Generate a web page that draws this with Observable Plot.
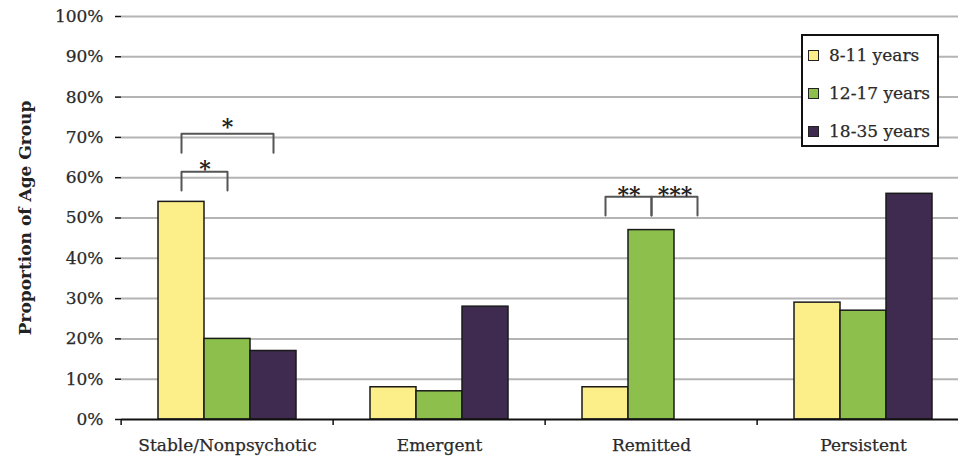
<!DOCTYPE html>
<html>
<head>
<meta charset="utf-8">
<script src="https://cdn.jsdelivr.net/npm/d3@7"></script>
<script src="https://cdn.jsdelivr.net/npm/@observablehq/plot@0.6"></script>
<style>
  html, body { margin: 0; padding: 0; background: #fff; }
  #wrap { position: relative; width: 958px; height: 458px; overflow: hidden; background: #fff; }
  #legend { position: absolute; left: 801px; top: 34px; width: 134px; height: 109px;
            border: 2px solid #111; background: #fff; font-family: "DejaVu Serif"; font-size: 17px; color: #2a2a2a;
            -webkit-text-stroke: 0.25px #2a2a2a; }
  .item { position: absolute; left: 5px; height: 20px; line-height: 20px; white-space: nowrap; }
  .sw { position: absolute; left: 0; top: 5px; width: 9px; height: 9px; border: 1px solid #222; }
  .lab { position: absolute; left: 21px; top: 0; }
  #chart svg g[aria-label="y-axis tick label"] text,
  #chart svg g[aria-label="fx-axis tick label"] text { stroke: #2a2a2a; stroke-width: 0.25px; }
  #chart svg g[aria-label="y-axis label"] text, #chart svg g[aria-label="y-axis label"] { font-weight: bold; font-size: 17px; fill: #222; }
</style>
</head>
<body>
<div id="wrap"><div id="chart"></div><div id="legend"></div></div>
<script>
// ---- data ----
const categories = ["Stable/Nonpsychotic", "Emergent", "Remitted", "Persistent"];
const groups = ["8-11 years", "12-17 years", "18-35 years"];
const values8to11 = [54, 8, 8, 29];
const values12to17 = [20, 7, 47, 27];
const values18to35 = [17, 28, 0, 56];
const colors = ["#fcef8a", "#8cbf4c", "#3f2b4f"];
const yTicks = [0, 10, 20, 30, 40, 50, 60, 70, 80, 90, 100];
const yTickLabels = ["0%", "10%", "20%", "30%", "40%", "50%", "60%", "70%", "80%", "90%", "100%"];
// significance brackets (values in % units)
const bracketCategory = ["Stable/Nonpsychotic", "Stable/Nonpsychotic", "Remitted", "Remitted"];
const bracketFrom = ["8-11 years", "8-11 years", "8-11 years", "12-17 years"];
const bracketTo = ["18-35 years", "12-17 years", "12-17 years", "18-35 years"];
const bracketTop = [70.9, 61.5, 55.3, 55.3];
const bracketLeg = [66.2, 56.8, 50.6, 50.6];
const bracketStar = [73.8, 63.5, 56.9, 56.9];
const significance = ["*", "*", "**", "***"];

// ---- layout ----
const W = 970, H = 458, mL = 119, mR = 0, mT = 16, mB = 39;
const step = (W - mL - mR) / categories.length;
const padOuter = 0.7625;
const barW = step / (groups.length + 2 * padOuter);

const allValues = [values8to11, values12to17, values18to35];
const table = categories.flatMap((c, i) => groups.map((g, j) => ({category: c, group: g, value: allValues[j][i]})));

const bracketPts = bracketCategory.flatMap((c, i) => [
  {b: i, category: c, group: bracketFrom[i], y: bracketLeg[i]},
  {b: i, category: c, group: bracketFrom[i], y: bracketTop[i]},
  {b: i, category: c, group: bracketTo[i], y: bracketTop[i]},
  {b: i, category: c, group: bracketTo[i], y: bracketLeg[i]}
]);
const stars = bracketCategory.map((c, i) => {
  const a = groups.indexOf(bracketFrom[i]), b = groups.indexOf(bracketTo[i]);
  const span = b - a;
  return span % 2 === 0
    ? {category: c, group: groups[a + span / 2], off: 0, y: bracketStar[i], text: significance[i]}
    : {category: c, group: groups[a], off: span / 2, y: bracketStar[i], text: significance[i]};
});

const plot = Plot.plot({
  width: W, height: H,
  marginLeft: mL, marginRight: mR, marginTop: mT, marginBottom: mB,
  style: {fontFamily: "DejaVu Serif", fontSize: "17px", color: "#2a2a2a", background: "#fff", maxWidth: "none"},
  fx: {domain: categories, padding: 0},
  x: {domain: groups, paddingInner: 0, paddingOuter: padOuter, axis: null},
  y: {domain: [0, 100]},
  color: {domain: groups, range: colors},
  marks: [
    Plot.ruleY(yTicks.slice(1), {stroke: "#b4b4b4", strokeWidth: 2}),
    Plot.barY(table.filter(d => d.value > 0), {fx: "category", x: "group", y: "value", fill: "group", stroke: "#1a1a1a", strokeWidth: 1.5}),
    Plot.line(bracketPts, {fx: "category", x: "group", y: "y", z: "b", stroke: "#555", strokeWidth: 2}),
    Plot.text(stars.filter(d => d.off === 0), {fx: "category", x: "group", y: "y", text: "text", fontSize: 22, fontWeight: "bold", fill: "#222", dy: 5}),
    Plot.text(stars.filter(d => d.off !== 0), {fx: "category", x: "group", y: "y", text: "text", fontSize: 22, fontWeight: "bold", fill: "#222", dy: 5, dx: barW / 2}),
    Plot.ruleY([0], {stroke: "#111", strokeWidth: 2}),
    Plot.axisY({ticks: yTicks, tickFormat: d => yTickLabels[yTicks.indexOf(d)], tickSize: 6, tickPadding: 12,
      fontSize: 17, strokeWidth: 1.5, stroke: "#111", fill: "#2a2a2a", line: true,
      label: "Proportion of Age Group", labelAnchor: "center", labelOffset: 103, labelArrow: "none"}),
    Plot.axisFx({anchor: "bottom", tickSize: 0, tickPadding: 19, fontSize: 17, fill: "#2a2a2a", label: null}),
    Plot.axisFx({anchor: "bottom", tickSize: 6, tickFormat: () => "", dx: -step / 2, stroke: "#111", strokeWidth: 1.5, label: null})
  ]
});
document.getElementById("chart").appendChild(plot);

// legend
const legend = document.getElementById("legend");
const rowCenters = [19, 57, 95];
groups.forEach((g, i) => {
  const item = document.createElement("div");
  item.className = "item";
  item.style.top = (rowCenters[i] - 10) + "px";
  item.innerHTML = `<span class="sw" style="background:${colors[i]}"></span><span class="lab">${g}</span>`;
  legend.appendChild(item);
});
</script>
</body>
</html>
